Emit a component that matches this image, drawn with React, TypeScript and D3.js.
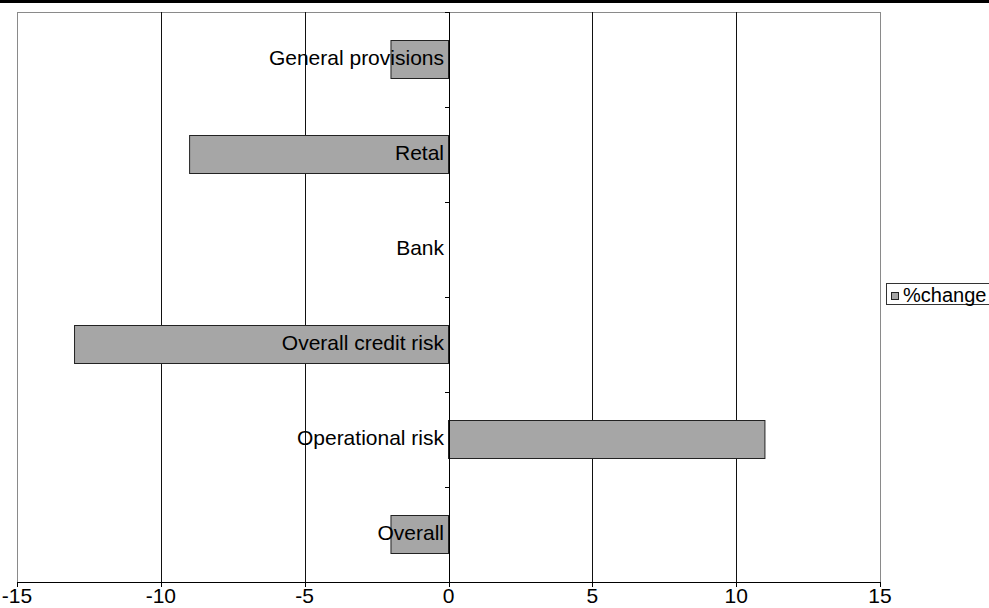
import React from "react";
import * as d3 from "d3";

const categories = ["General provisions", "Retal", "Bank", "Overall credit risk", "Operational risk", "Overall"];
const pctChange = [-2, -9, 0, -13, 11, -2];
const xTicks = [-15, -10, -5, 0, 5, 10, 15];
const seriesName = "%change";

const W = 989;
const H = 608;
const FONT = "'Liberation Sans', Arial, Helvetica, sans-serif";

export default function App() {
  const x = d3.scaleLinear().domain([-15, 15]).range([17, 880]);
  const y = d3.scaleBand<string>().domain(categories).range([12, 582]).paddingInner(0.6).paddingOuter(0.3);
  const step = y.step();
  const top = 12;
  const bottom = 582;
  const x0 = x(0);
  const boundaries = d3.range(categories.length + 1).map((i) => top + i * step);

  return (
    <svg width={W} height={H} style={{ position: "absolute", left: 0, top: 0, background: "#fff" }} fontFamily={FONT}>
      <rect x={0} y={0} width={W} height={H} fill="#fff" />
      <rect x={0} y={0} width={W} height={3} fill="#000" />
      {/* plot border */}
      <rect x={x(-15) + 0.5} y={top + 0.5} width={x(15) - x(-15)} height={bottom - top} fill="none" stroke="#8a8a8a" strokeWidth={1} />
      {/* gridlines */}
      {xTicks.filter((t) => t !== -15 && t !== 15 && t !== 0).map((t) => (
        <line key={t} x1={Math.round(x(t)) + 0.5} x2={Math.round(x(t)) + 0.5} y1={top} y2={bottom} stroke="#111" strokeWidth={1} />
      ))}
      {/* bars */}
      {categories.map((c, i) => {
        const v = pctChange[i];
        if (v === 0) return null;
        const xa = Math.min(x(v), x0);
        const xb = Math.max(x(v), x0);
        return (
          <rect key={c} x={xa} y={y(c)!} width={xb - xa} height={y.bandwidth()} fill="#a6a6a6" stroke="#222" strokeWidth={1} />
        );
      })}
      {/* bottom value axis */}
      <line x1={x(-15)} x2={x(15) + 1} y1={bottom + 0.5} y2={bottom + 0.5} stroke="#000" strokeWidth={1} />
      {xTicks.map((t) => (
        <g key={t}>
          <line x1={Math.round(x(t)) + 0.5} x2={Math.round(x(t)) + 0.5} y1={bottom} y2={bottom + 5} stroke="#000" />
          <text x={x(t)} y={603} textAnchor="middle" fontSize={21} fill="#000">{t}</text>
        </g>
      ))}
      {/* category axis at zero */}
      <line x1={Math.round(x0) + 0.5} x2={Math.round(x0) + 0.5} y1={top} y2={bottom} stroke="#000" strokeWidth={1} />
      {boundaries.map((b, i) => (
        <line key={i} x1={Math.round(x0) - 4} x2={Math.round(x0) + 0.5} y1={Math.round(b) + 0.5} y2={Math.round(b) + 0.5} stroke="#000" />
      ))}
      {categories.map((c) => (
        <text key={c} x={444} y={y(c)! + y.bandwidth() / 2 + 5.5} textAnchor="end" fontSize={21} fill="#000">{c}</text>
      ))}
      {/* legend */}
      <rect x={886.5} y={283.5} width={110} height={21} fill="#fff" stroke="#333" strokeWidth={1} />
      <rect x={891.5} y={292.5} width={7} height={7} fill="#a6a6a6" stroke="#222" strokeWidth={1} />
      <text x={903} y={302} fontSize={20} fill="#000">{seriesName}</text>
    </svg>
  );
}
